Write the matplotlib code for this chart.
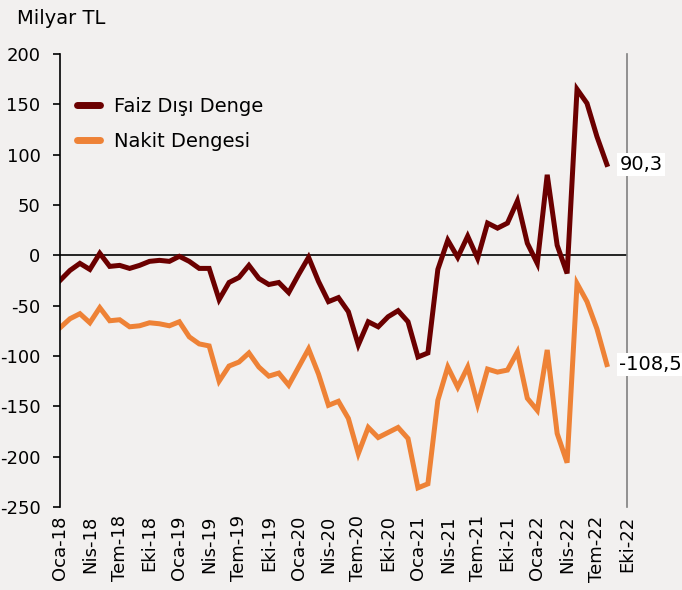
import matplotlib.pyplot as plt
import numpy as np

# aylik veriler, Oca-18 .. Agu-22 (milyar TL)
faiz_disi_denge = [-25, -15, -8, -14, 2, -11, -10, -13, -10, -6,
                   -5, -6, -1, -6, -13, -13, -44, -27, -22, -10,
                   -23, -29, -27, -37, -19, -2, -26, -46, -42, -56,
                   -89, -66, -71, -61, -55, -66, -101, -97, -14, 15,
                   -2, 19, -3, 32, 27, 32, 54, 12, -8, 80,
                   10, -18, 165, 151, 118, 90.3]
nakit_dengesi = [-72, -63, -58, -67, -52, -65, -64, -71, -70, -67,
                 -68, -70, -66, -81, -88, -90, -125, -110, -106, -97,
                 -111, -120, -117, -129, -111, -93, -118, -149, -145, -162,
                 -197, -171, -181, -176, -171, -182, -231, -227, -144, -111,
                 -131, -111, -148, -113, -116, -114, -96, -142, -154, -94,
                 -177, -206, -28, -46, -73, -108.5]
ay_etiketleri = ['Oca-18', 'Nis-18', 'Tem-18', 'Eki-18', 'Oca-19', 'Nis-19', 'Tem-19', 'Eki-19',
                 'Oca-20', 'Nis-20', 'Tem-20', 'Eki-20', 'Oca-21', 'Nis-21', 'Tem-21', 'Eki-21',
                 'Oca-22', 'Nis-22', 'Tem-22', 'Eki-22']

bg = '#F2F0EF'
koyu = '#6B0000'
turuncu = '#EE8236'

plt.rcParams['font.family'] = 'DejaVu Sans'
plt.rcParams['axes.unicode_minus'] = False
fig = plt.figure(figsize=(6.82, 5.9), dpi=100, facecolor=bg)
ax = fig.add_axes([0.088, 0.1407, 0.831, 0.7678])
ax.set_facecolor(bg)

x = np.arange(len(faiz_disi_denge))
ax.plot(x, faiz_disi_denge, color=koyu, lw=3.6, label='Faiz Dışı Denge', solid_joinstyle='miter')
ax.plot(x, nakit_dengesi, color=turuncu, lw=3.6, label='Nakit Dengesi', solid_joinstyle='miter')
ax.axhline(0, color='black', lw=1.2, zorder=1)

ax.set_xlim(0, 57)
ax.set_ylim(-250, 200)
ax.set_yticks(range(-250, 201, 50))
ax.set_xticks(range(0, 58, 3))
ax.set_xticklabels(ay_etiketleri, rotation=90, fontsize=13)
ax.tick_params(axis='y', labelsize=13, length=5, width=1.2, pad=9)
ax.tick_params(axis='x', length=0, pad=6)

ax.spines['top'].set_visible(False)
ax.spines['bottom'].set_visible(False)
ax.spines['left'].set_linewidth(1.2)
ax.spines['right'].set_color('#808080')
ax.spines['right'].set_linewidth(1.2)

# son deger etiketleri
ax.annotate('90,3', xy=(x[-1], faiz_disi_denge[-1]), xytext=(9, 0), textcoords='offset points',
            va='center', ha='left', fontsize=14,
            bbox=dict(boxstyle='square,pad=0.12', fc='white', ec='none'), annotation_clip=False)
ax.annotate('-108,5', xy=(x[-1], nakit_dengesi[-1]), xytext=(9, 0), textcoords='offset points',
            va='center', ha='left', fontsize=14,
            bbox=dict(boxstyle='square,pad=0.12', fc='white', ec='none'), annotation_clip=False)

leg = ax.legend(loc='upper left', bbox_to_anchor=(0.03, 0.905), frameon=False, fontsize=14,
                borderaxespad=0, borderpad=0,
                handlelength=1.2, handletextpad=0.7, labelspacing=0.8)
for h in leg.get_lines():
    h.set_linewidth(5)
    h.set_solid_capstyle('round')

fig.text(0.025, 0.985, 'Milyar TL', fontsize=14, va='top', ha='left')

fig.savefig('out.png', dpi=100, facecolor=bg)
